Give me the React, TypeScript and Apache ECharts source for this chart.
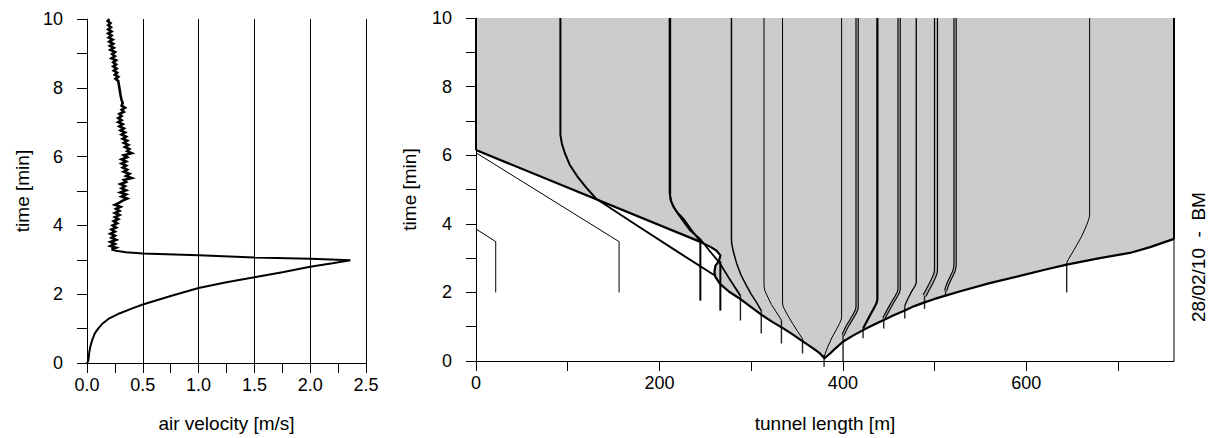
import React, { useEffect, useRef } from "react";
import * as echarts from "echarts";

// ---------- axes ----------
const velocityMax = 2.5;
const timeMax = 10;
const tunnelEnd = 761;
const lengthTickValues = [0, 100, 200, 300, 400, 500, 600, 700];
const lengthLabelValues = [0, 200, 400, 600];

// ---------- left panel: air velocity [v, t] ----------
const velocityRise: number[][] = [
  [0.0, 0.0], [0.01, 0.05], [0.015, 0.15], [0.02, 0.3], [0.03, 0.48], [0.045, 0.65],
  [0.07, 0.86], [0.1, 1.0], [0.14, 1.15], [0.2, 1.3], [0.29, 1.44], [0.4, 1.58],
  [0.5, 1.7], [0.75, 1.95], [1.0, 2.18], [1.25, 2.35], [1.5, 2.49], [1.75, 2.64],
  [2.0, 2.8], [2.2, 2.9], [2.36, 2.99], [2.0, 3.03], [1.5, 3.07], [1.0, 3.13],
  [0.5, 3.18], [0.35, 3.22], [0.26, 3.26], [0.22, 3.3],
];
const velocityNoisy: number[][] = [
  [0.22, 3.3], [0.26, 3.35], [0.21, 3.4], [0.25, 3.46], [0.21, 3.52], [0.26, 3.58], [0.22, 3.64],
  [0.25, 3.7], [0.21, 3.76], [0.25, 3.82], [0.22, 3.88], [0.26, 3.94], [0.23, 4.0], [0.27, 4.06],
  [0.24, 4.12], [0.28, 4.18], [0.25, 4.24], [0.29, 4.3], [0.25, 4.36], [0.29, 4.42], [0.26, 4.48],
  [0.3, 4.54], [0.25, 4.6], [0.29, 4.66], [0.32, 4.72], [0.36, 4.78], [0.31, 4.84], [0.35, 4.9],
  [0.3, 4.96], [0.35, 5.02], [0.31, 5.08], [0.34, 5.14], [0.3, 5.2], [0.35, 5.26], [0.33, 5.32],
  [0.4, 5.38], [0.35, 5.44], [0.38, 5.5], [0.33, 5.56], [0.36, 5.62], [0.32, 5.68], [0.35, 5.74],
  [0.31, 5.8], [0.35, 5.86], [0.31, 5.92], [0.36, 5.98], [0.33, 6.04], [0.4, 6.1], [0.36, 6.16],
  [0.38, 6.22], [0.34, 6.28], [0.37, 6.34], [0.33, 6.4], [0.36, 6.46], [0.32, 6.52], [0.35, 6.58],
  [0.31, 6.64], [0.34, 6.7], [0.3, 6.76], [0.33, 6.82], [0.29, 6.88], [0.32, 6.94], [0.28, 7.0],
  [0.31, 7.06], [0.28, 7.12], [0.31, 7.18], [0.29, 7.24], [0.33, 7.3], [0.31, 7.36], [0.34, 7.42],
  [0.31, 7.48], [0.32, 7.56], [0.31, 7.64], [0.305, 7.72], [0.3, 7.8], [0.295, 7.9], [0.29, 8.0],
  [0.285, 8.1], [0.28, 8.2], [0.255, 8.26], [0.28, 8.32], [0.25, 8.38], [0.27, 8.44], [0.24, 8.5],
  [0.265, 8.56], [0.235, 8.62], [0.26, 8.68], [0.235, 8.74], [0.26, 8.8], [0.22, 8.86], [0.25, 8.92],
  [0.225, 8.98], [0.25, 9.04], [0.21, 9.1], [0.24, 9.16], [0.205, 9.22], [0.235, 9.28], [0.2, 9.34],
  [0.23, 9.4], [0.195, 9.46], [0.22, 9.52], [0.19, 9.58], [0.22, 9.64], [0.19, 9.7], [0.215, 9.76],
  [0.19, 9.82], [0.21, 9.88], [0.185, 9.94], [0.2, 10.0],
];

// ---------- right panel: smoke front and path lines [m, t] ----------
const smokeFront: number[][] = [
  [0, 6.15], [244, 3.48], [256, 3.32], [262, 3.22], [266.5, 3.08], [265, 2.92], [261, 2.78],
  [260, 2.6], [261, 2.45], [266, 2.25], [276, 2.02], [288, 1.81], [300, 1.57], [311, 1.35],
  [323, 1.14], [335, 0.95], [346, 0.76], [357, 0.56], [368, 0.36], [375, 0.22], [380, 0.08],
  [386, 0.22], [392, 0.37], [400, 0.56], [411, 0.74], [422, 0.9], [433, 1.05], [444, 1.19],
  [456, 1.34], [467.5, 1.47], [478, 1.6], [489, 1.71], [500, 1.81], [511, 1.9], [530, 2.05],
  [560, 2.27], [593, 2.48], [620, 2.66], [644, 2.81], [680, 3.0], [712.8, 3.15], [735, 3.32],
  [761, 3.56],
];
const smokeTop: number[][] = [[761, 10], [0, 10]];

const lineA: number[][] = [[0, 3.85], [21.5, 3.48], [21.5, 2.0]];
const lineB: number[][] = [[0, 6.07], [156, 3.48], [156, 2.0]];
const leftEdge: number[][] = [[0, 6.15], [0, 10]];
const rightEdge: number[][] = [[761, 0], [761, 10]];
const rightEdgeTop: number[][] = [[761, 3.56], [761, 10]];

const path92: number[][] = [
  [92, 10], [92, 6.6], [93.5, 6.35], [97, 6.05], [102, 5.73], [110, 5.4], [120, 5.06],
  [131, 4.73], [178.5, 3.9], [220, 3.18], [260, 2.5],
];
const path211: number[][] = [[211.4, 10], [211.4, 4.87]];
const path211a: number[][] = [
  [211.4, 4.87], [213, 4.65], [217, 4.42], [224, 4.15], [233, 3.82], [244.6, 3.55],
  [255, 3.2], [265.6, 2.86], [276.7, 2.38], [288.3, 1.9],
];
const path211b: number[][] = [
  [211.4, 4.87], [212, 4.7], [215, 4.5], [220, 4.32], [226, 4.15], [235, 3.82], [244.6, 3.48],
];
const path311: number[][] = [
  [311, 1.47], [306, 1.7], [300, 1.95], [295, 2.19], [289, 2.5], [284, 2.86], [280.5, 3.2],
  [278.8, 3.42], [278.5, 3.55], [278.5, 10],
];
const path333: number[][] = [
  [333, 1.19], [328, 1.4], [322, 1.65], [317.5, 1.9], [315, 2.05], [314.2, 2.15], [314, 2.25], [314, 10],
];
const path356: number[][] = [
  [356, 0.65], [351, 0.85], [345, 1.1], [339.5, 1.35], [336, 1.52], [334.5, 1.63], [334.2, 1.72], [334.2, 10],
];
const path380: number[][] = [
  [379.5, 0.12], [383, 0.38], [388, 0.68], [393, 0.92], [396.5, 1.1], [398.3, 1.22], [398.6, 1.3], [398.6, 10],
];
const path400: number[][] = [
  [400.2, 0.76], [404, 0.98], [408.5, 1.18], [412.5, 1.36], [414.8, 1.48], [415.5, 1.56], [415.5, 10],
];
const path422: number[][] = [
  [422, 0.95], [426, 1.15], [430.5, 1.38], [434.5, 1.57], [436.8, 1.7], [437.6, 1.8], [437.6, 10],
];
const path444: number[][] = [
  [444.5, 1.24], [449, 1.46], [454, 1.7], [458, 1.88], [460.5, 2.0], [461.3, 2.1], [461.3, 10],
];
const path467: number[][] = [
  [467.5, 1.62], [471, 1.82], [475, 2.03], [478.5, 2.18], [480, 2.28], [480, 10],
];
const path489: number[][] = [
  [489, 1.9], [492.5, 2.08], [496.5, 2.28], [499.5, 2.45], [501.2, 2.58], [501.5, 2.7], [501.5, 10],
];
const path512: number[][] = [
  [512, 2.05], [514.5, 2.25], [518, 2.45], [520.8, 2.6], [522, 2.72], [522.3, 2.8], [522.3, 10],
];
const path644: number[][] = [
  [644, 2.86], [646, 2.97], [650, 3.15], [655, 3.38], [660, 3.62], [664, 3.85], [667, 4.05],
  [668.6, 4.18], [669, 4.28], [669, 10],
];

// release marks: [m, tLow, tHigh]
const releaseMarks: number[][] = [
  [244.6, 1.76, 3.48], [266.4, 1.47, 2.91], [288.3, 1.18, 1.9], [311, 0.8, 1.47],
  [333, 0.51, 1.19], [356, 0.22, 0.65], [379.5, -0.17, 0.18], [400.2, 0, 0.76],
  [422, 0.66, 0.95], [444.5, 0.95, 1.24], [467.5, 1.24, 1.62], [489, 1.52, 1.9],
  [512, 1.9, 2.05], [644, 2.0, 2.86],
];

const dateText = "28/02/10  -  BM";

const FONT = '"Liberation Sans", Arial, Helvetica, sans-serif';
const FS = 18;
const NAME_FS = 19;

export default function App() {
  const ref = useRef<HTMLDivElement>(null);

  useEffect(() => {
    document.body.style.margin = "0";
    if (!ref.current) return;
    const chart = echarts.init(ref.current, undefined, { renderer: "svg" });

    const axisCommon = {
      axisLine: { show: true, onZero: false, lineStyle: { color: "#000", width: 1 } },
      axisTick: { show: true, length: 10, inside: false, lineStyle: { color: "#000", width: 1 } },
      minorTick: { show: true, splitNumber: 2, length: 10, lineStyle: { color: "#000", width: 1 } },
      nameTextStyle: { color: "#000", fontSize: NAME_FS, fontFamily: FONT },
    };

    const labelStyle = { color: "#000", fontSize: FS, fontFamily: FONT };

    const line = (data: number[][], width: number, color = "#000", extra: any = {}) => ({
      type: "line",
      xAxisIndex: 1,
      yAxisIndex: 1,
      data,
      showSymbol: false,
      symbol: "none",
      silent: true,
      lineStyle: { color, width, cap: "butt", join: "round" },
      z: 3,
      ...extra,
    });

    const doubleLine = (data: number[][], outer: number) => [
      line(data, outer, "#000"),
      line(data, Math.max(outer - 2.2, 0.8), "#a8a8a8", { z: 4 }),
    ];

    const marks = releaseMarks.map((r, i) =>
      line(
        [[r[0], r[1]], [r[0], r[2]]],
        i < 2 ? 2 : 1.4,
        i < 2 ? "#000" : "#222",
        { clip: false }
      )
    );

    const option: any = {
      animation: false,
      backgroundColor: "#fff",
      textStyle: { fontFamily: FONT },
      grid: [
        { left: 87, top: 19, width: 279, height: 348 },
        { left: 476, top: 18, width: 698, height: 348 },
      ],
      xAxis: [
        {
          ...axisCommon,
          gridIndex: 0,
          type: "value",
          min: 0,
          max: velocityMax,
          interval: 0.5,
          name: "air velocity [m/s]",
          nameLocation: "middle",
          nameGap: 51,
          splitLine: { show: true, lineStyle: { color: "#000", width: 1 } },
          axisLabel: { ...labelStyle, margin: 13, formatter: (v: number) => v.toFixed(1) },
        },
        {
          ...axisCommon,
          gridIndex: 1,
          type: "value",
          min: 0,
          max: tunnelEnd,
          interval: 100,
          name: "tunnel length [m]",
          nameLocation: "middle",
          nameGap: 53,
          minorTick: { show: false },
          splitLine: { show: false },
          axisTick: { ...axisCommon.axisTick, customValues: lengthTickValues },
          axisLabel: {
            ...labelStyle,
            margin: 13,
            customValues: lengthLabelValues,
            formatter: (v: number) => (lengthLabelValues.indexOf(v) >= 0 ? String(v) : ""),
          },
        },
      ],
      yAxis: [0, 1].map((gi) => ({
        ...axisCommon,
        gridIndex: gi,
        type: "value",
        min: 0,
        max: timeMax,
        interval: 2,
        name: "time [min]",
        nameLocation: "middle",
        nameGap: gi === 0 ? 55 : 57,
        splitLine: { show: false },
        axisLabel: { ...labelStyle, margin: 24 },
      })),
      graphic: [
        {
          type: "text",
          x: 1198,
          y: 257,
          rotation: Math.PI / 2,
          style: {
            text: dateText,
            fill: "#000",
            font: `19px ${FONT}`,
            align: "center",
            verticalAlign: "middle",
          },
        },
      ],
      series: [
        {
          type: "custom",
          xAxisIndex: 1,
          yAxisIndex: 1,
          silent: true,
          z: 1,
          data: [[0, 0]],
          renderItem: (_p: any, api: any) => {
            const pts = smokeFront.concat(smokeTop).map((p) => api.coord(p));
            return { type: "polygon", shape: { points: pts }, style: { fill: "#cccccc" } };
          },
        },
        {
          type: "line",
          xAxisIndex: 0,
          yAxisIndex: 0,
          data: velocityRise,
          showSymbol: false,
          symbol: "none",
          silent: true,
          lineStyle: { color: "#000", width: 2 },
          z: 3,
        },
        {
          type: "line",
          xAxisIndex: 0,
          yAxisIndex: 0,
          data: velocityNoisy,
          showSymbol: false,
          symbol: "none",
          silent: true,
          lineStyle: { color: "#000", width: 2.6, join: "miter" },
          z: 3,
        },
        ...marks,
        line(rightEdge, 1),
        line(rightEdgeTop, 2),
        line(leftEdge, 2),
        line(lineA, 1),
        line(lineB, 1),
        line(path92, 2),
        line(path211, 2.5),
        line(path211a, 1.8),
        line(path211b, 1.8),
        line(path311, 1.5),
        line(path333, 1),
        line(path356, 1),
        line(path380, 1),
        ...doubleLine(path400, 3.4),
        line(path422, 2.2),
        ...doubleLine(path444, 3.4),
        line(path467, 1.3),
        ...doubleLine(path489, 4.2),
        ...doubleLine(path512, 3.4),
        line(path644, 1),
        line(smokeFront, 2.2),
      ],
    };

    chart.setOption(option);
    return () => chart.dispose();
  }, []);

  return <div ref={ref} style={{ width: 1210, height: 438 }} />;
}
